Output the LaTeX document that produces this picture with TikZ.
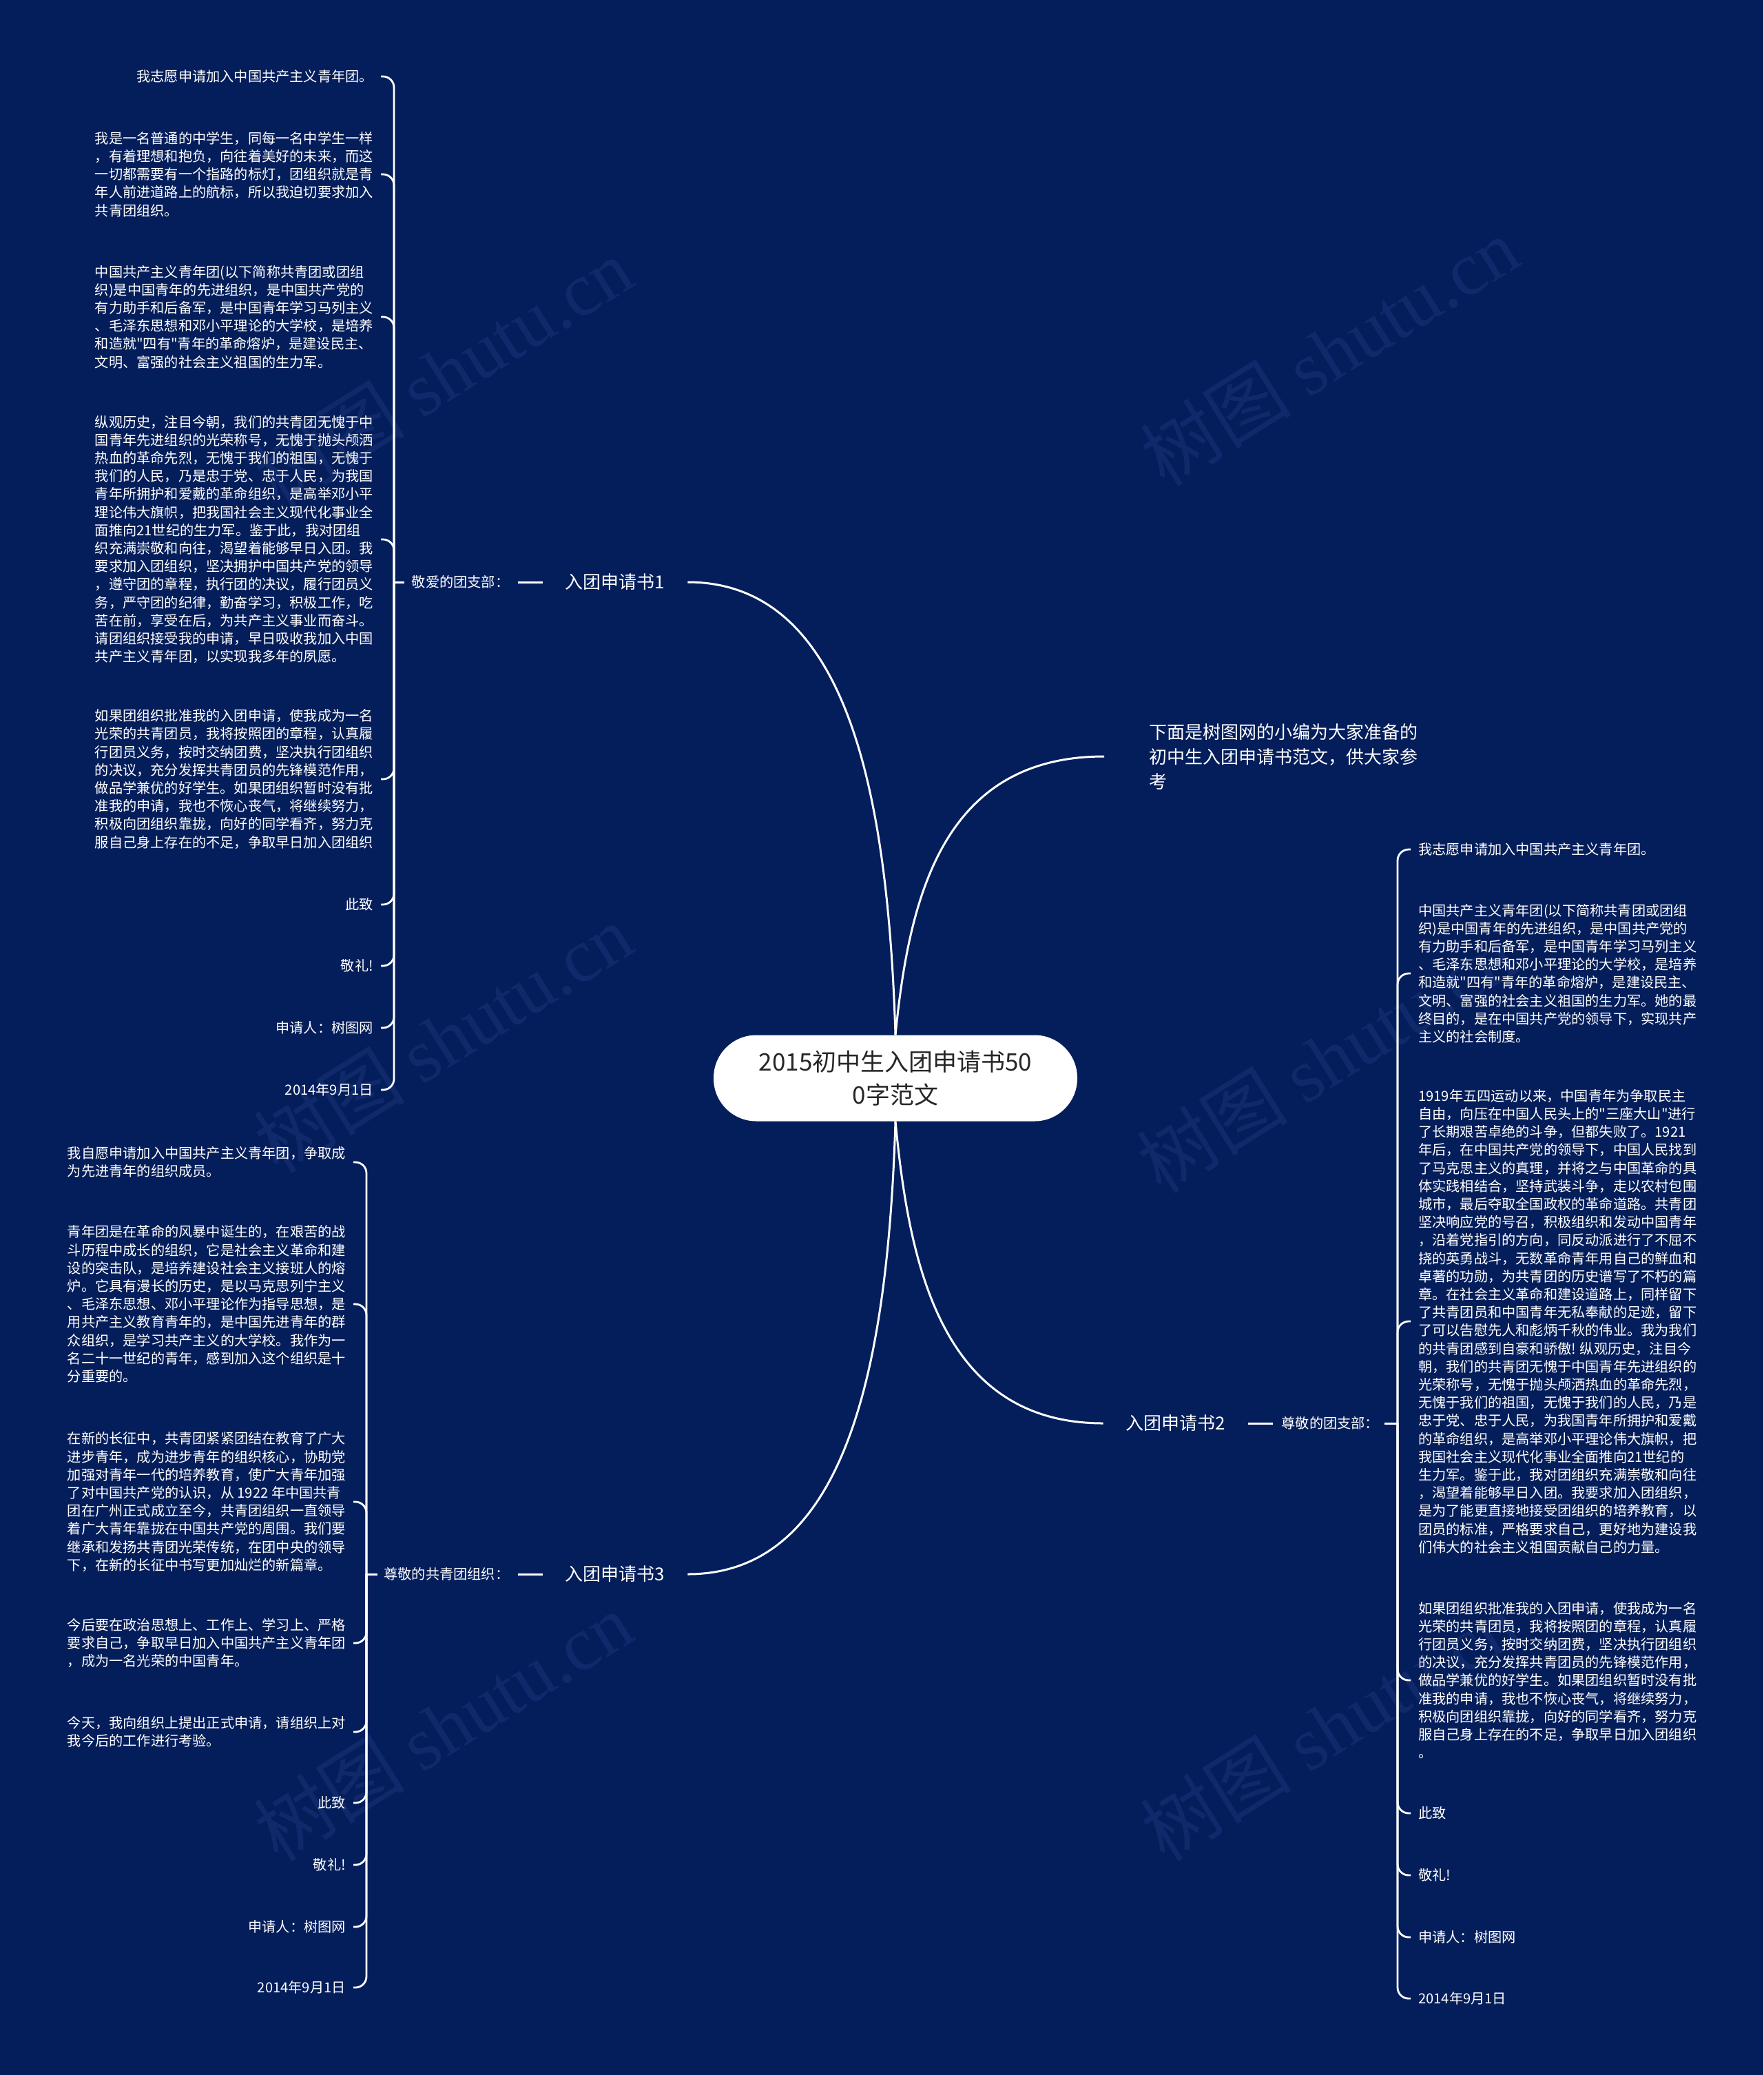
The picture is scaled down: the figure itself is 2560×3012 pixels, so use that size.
\documentclass[tikz,border=0pt]{standalone}
\usepackage{fontspec}
\setmainfont{Noto Sans CJK SC}
\newfontfamily\cjk{Noto Sans CJK SC}
\newfontfamily\wmfont{Liberation Serif}
\usetikzlibrary{positioning, calc}
\definecolor{navybg}{HTML}{041E5B}
\definecolor{wmblue}{HTML}{10296A}
\newcommand{\leaffont}{\cjk\fontsize{20.2}{26.2}\selectfont}
\tikzset{
    rootnode/.style={
        rectangle, rounded corners=62pt, minimum width=528pt, minimum height=125pt,
        fill=white, text=black!85, align=center, inner sep=0pt,
        font=\cjk\fontsize{35}{48}\selectfont
    },
    intronode/.style={
        text=white, align=left, inner sep=0pt, anchor=west,
        font=\cjk\fontsize{26}{36}\selectfont
    },
    branchnode/.style={
        text=white, inner sep=0pt, font=\cjk\fontsize{26}{36}\selectfont
    },
    greet/.style={
        text=white, inner sep=0pt, font=\leaffont
    },
    leafl/.style={
        text=white, align=left, inner sep=0pt, anchor=east, font=\leaffont
    },
    leafr/.style={
        text=white, align=left, inner sep=0pt, anchor=west, font=\leaffont
    },
    link/.style={
        draw=white, line width=3pt
    },
    bracketline/.style={
        draw=white, line width=2.8pt, rounded corners=16pt
    },
    wmark/.style={
        text=wmblue, rotate=32, inner sep=0pt, font=\cjk\fontsize{110}{120}\selectfont
    }
}

\begin{document}
\begin{tikzpicture}[x=1pt, y=-1pt]

    \fill[navybg] (0,0) rectangle (2560,3012);
    \useasboundingbox (0,0) rectangle (2560,3012);

    \node[wmark] (wm1) at (643,540)   {树图 {\wmfont shutu.cn}};
    \node[wmark] (wm2) at (1930,510)  {树图 {\wmfont shutu.cn}};
    \node[wmark] (wm3) at (643,1507)  {树图 {\wmfont shutu.cn}};
    \node[wmark] (wm4) at (1925,1536) {树图 {\wmfont shutu.cn}};
    \node[wmark] (wm5) at (643,2506)  {树图 {\wmfont shutu.cn}};
    \node[wmark] (wm6) at (1930,2506) {树图 {\wmfont shutu.cn}};

    \node[rootnode] (root) at (1300,1565) {2015初中生入团申请书50\\0字范文};

    \node[intronode] (intro) at (1668,1098)
        {下面是树图网的小编为大家准备的\\初中生入团申请书范文，供大家参\\考};

    \node[branchnode] (app1) at (893,845)   {入团申请书1};
    \node[branchnode] (app2) at (1707,2066) {入团申请书2};
    \node[branchnode] (app3) at (893,2285)  {入团申请书3};

    \node[greet, left=81pt of app1]  (greet1) {敬爱的团支部：};
    \node[greet, right=81pt of app2] (greet2) {尊敬的团支部：};
    \node[greet, left=81pt of app3]  (greet3) {尊敬的共青团组织：};

    \coordinate (fork1) at (572,845);
    \coordinate (fork2) at (2029,2066);
    \coordinate (fork3) at (532,2285);

    \draw[link] (root.north) .. controls +(-11,-353) and +(231,0) .. ([xshift=33pt]app1.east);
    \draw[link] (root.north) .. controls +(20,-203) and +(-233,0) .. ([xshift=-65pt]intro.west);
    \draw[link] (root.south) .. controls +(20,212) and +(-233,0) .. ([xshift=-33pt]app2.west);
    \draw[link] (root.south) .. controls +(-11,353) and +(231,0) .. ([xshift=33pt]app3.east);

    \draw[link] ([xshift=12pt]greet1.east) -- ([xshift=-33pt]app1.west);
    \draw[link] (fork1) -- ([xshift=-11pt]greet1.west);
    \draw[link] ([xshift=33pt]app2.east) -- ([xshift=-12pt]greet2.west);
    \draw[link] ([xshift=8pt]greet2.east) -- (fork2);
    \draw[link] ([xshift=12pt]greet3.east) -- ([xshift=-33pt]app3.west);
    \draw[link] (fork3) -- ([xshift=-9pt]greet3.west);

    % application 1
    \node[leafl] (p1a) at (542,111) {我志愿申请加入中国共产主义青年团。};
    \node[leafl] (p1b) at (542,253)
        {我是一名普通的中学生，同每一名中学生一样\\，有着理想和抱负，向往着美好的未来，而这\\一切都需要有一个指路的标灯，团组织就是青\\年人前进道路上的航标，所以我迫切要求加入\\共青团组织。};
    \node[leafl] (p1c) at (542,460)
        {中国共产主义青年团(以下简称共青团或团组\\织)是中国青年的先进组织，是中国共产党的\\有力助手和后备军，是中国青年学习马列主义\\、毛泽东思想和邓小平理论的大学校，是培养\\和造就"四有"青年的革命熔炉，是建设民主、\\文明、富强的社会主义祖国的生力军。};
    \node[leafl] (p1d) at (542,783)
        {纵观历史，注目今朝，我们的共青团无愧于中\\国青年先进组织的光荣称号，无愧于抛头颅洒\\热血的革命先烈，无愧于我们的祖国，无愧于\\我们的人民，乃是忠于党、忠于人民，为我国\\青年所拥护和爱戴的革命组织，是高举邓小平\\理论伟大旗帜，把我国社会主义现代化事业全\\面推向21世纪的生力军。鉴于此，我对团组\\织充满崇敬和向往，渴望着能够早日入团。我\\要求加入团组织，坚决拥护中国共产党的领导\\，遵守团的章程，执行团的决议，履行团员义\\务，严守团的纪律，勤奋学习，积极工作，吃\\苦在前，享受在后，为共产主义事业而奋斗。\\请团组织接受我的申请，早日吸收我加入中国\\共产主义青年团，以实现我多年的夙愿。};
    \node[leafl] (p1e) at (542,1131)
        {如果团组织批准我的入团申请，使我成为一名\\光荣的共青团员，我将按照团的章程，认真履\\行团员义务，按时交纳团费，坚决执行团组织\\的决议，充分发挥共青团员的先锋模范作用，\\做品学兼优的好学生。如果团组织暂时没有批\\准我的申请，我也不恢心丧气，将继续努力，\\积极向团组织靠拢，向好的同学看齐，努力克\\服自己身上存在的不足，争取早日加入团组织};
    \node[leafl] (p1f) at (542,1313) {此致};
    \node[leafl] (p1g) at (542,1402) {敬礼!};
    \node[leafl] (p1h) at (542,1492) {申请人：树图网};
    \node[leafl] (p1i) at (542,1582) {2014年9月1日};

    \draw[bracketline] (fork1) |- ([xshift=11pt]p1a.east);
    \draw[bracketline] (fork1) |- ([xshift=11pt]p1b.east);
    \draw[bracketline] (fork1) |- ([xshift=11pt]p1c.east);
    \draw[bracketline] (fork1) |- ([xshift=11pt]p1d.east);
    \draw[bracketline] (fork1) |- ([xshift=11pt]p1e.east);
    \draw[bracketline] (fork1) |- ([xshift=11pt]p1f.east);
    \draw[bracketline] (fork1) |- ([xshift=11pt]p1g.east);
    \draw[bracketline] (fork1) |- ([xshift=11pt]p1h.east);
    \draw[bracketline] (fork1) |- ([xshift=11pt]p1i.east);

    % application 2
    \node[leafr] (p2a) at (2059,1233) {我志愿申请加入中国共产主义青年团。};
    \node[leafr] (p2b) at (2059,1413)
        {中国共产主义青年团(以下简称共青团或团组\\织)是中国青年的先进组织，是中国共产党的\\有力助手和后备军，是中国青年学习马列主义\\、毛泽东思想和邓小平理论的大学校，是培养\\和造就"四有"青年的革命熔炉，是建设民主、\\文明、富强的社会主义祖国的生力军。她的最\\终目的，是在中国共产党的领导下，实现共产\\主义的社会制度。};
    \node[leafr] (p2c) at (2059,1918)
        {1919年五四运动以来，中国青年为争取民主\\自由，向压在中国人民头上的"三座大山"进行\\了长期艰苦卓绝的斗争，但都失败了。1921\\年后，在中国共产党的领导下，中国人民找到\\了马克思主义的真理，并将之与中国革命的具\\体实践相结合，坚持武装斗争，走以农村包围\\城市，最后夺取全国政权的革命道路。共青团\\坚决响应党的号召，积极组织和发动中国青年\\，沿着党指引的方向，同反动派进行了不屈不\\挠的英勇战斗，无数革命青年用自己的鲜血和\\卓著的功勋，为共青团的历史谱写了不朽的篇\\章。在社会主义革命和建设道路上，同样留下\\了共青团员和中国青年无私奉献的足迹，留下\\了可以告慰先人和彪炳千秋的伟业。我为我们\\的共青团感到自豪和骄傲! 纵观历史，注目今\\朝，我们的共青团无愧于中国青年先进组织的\\光荣称号，无愧于抛头颅洒热血的革命先烈，\\无愧于我们的祖国，无愧于我们的人民，乃是\\忠于党、忠于人民，为我国青年所拥护和爱戴\\的革命组织，是高举邓小平理论伟大旗帜，把\\我国社会主义现代化事业全面推向21世纪的\\生力军。鉴于此，我对团组织充满崇敬和向往\\，渴望着能够早日入团。我要求加入团组织，\\是为了能更直接地接受团组织的培养教育，以\\团员的标准，严格要求自己，更好地为建设我\\们伟大的社会主义祖国贡献自己的力量。};
    \node[leafr] (p2d) at (2059,2439)
        {如果团组织批准我的入团申请，使我成为一名\\光荣的共青团员，我将按照团的章程，认真履\\行团员义务，按时交纳团费，坚决执行团组织\\的决议，充分发挥共青团员的先锋模范作用，\\做品学兼优的好学生。如果团组织暂时没有批\\准我的申请，我也不恢心丧气，将继续努力，\\积极向团组织靠拢，向好的同学看齐，努力克\\服自己身上存在的不足，争取早日加入团组织\\。};
    \node[leafr] (p2e) at (2059,2632) {此致};
    \node[leafr] (p2f) at (2059,2722) {敬礼!};
    \node[leafr] (p2g) at (2059,2812) {申请人：树图网};
    \node[leafr] (p2h) at (2059,2901) {2014年9月1日};

    \draw[bracketline] (fork2) |- ([xshift=-11pt]p2a.west);
    \draw[bracketline] (fork2) |- ([xshift=-11pt]p2b.west);
    \draw[bracketline] (fork2) |- ([xshift=-11pt]p2c.west);
    \draw[bracketline] (fork2) |- ([xshift=-11pt]p2d.west);
    \draw[bracketline] (fork2) |- ([xshift=-11pt]p2e.west);
    \draw[bracketline] (fork2) |- ([xshift=-11pt]p2f.west);
    \draw[bracketline] (fork2) |- ([xshift=-11pt]p2g.west);
    \draw[bracketline] (fork2) |- ([xshift=-11pt]p2h.west);

    % application 3
    \node[leafl] (p3a) at (502,1687)
        {我自愿申请加入中国共产主义青年团，争取成\\为先进青年的组织成员。};
    \node[leafl] (p3b) at (502,1893)
        {青年团是在革命的风暴中诞生的，在艰苦的战\\斗历程中成长的组织，它是社会主义革命和建\\设的突击队，是培养建设社会主义接班人的熔\\炉。它具有漫长的历史，是以马克思列宁主义\\、毛泽东思想、邓小平理论作为指导思想，是\\用共产主义教育青年的，是中国先进青年的群\\众组织，是学习共产主义的大学校。我作为一\\名二十一世纪的青年，感到加入这个组织是十\\分重要的。};
    \node[leafl] (p3c) at (502,2180)
        {在新的长征中，共青团紧紧团结在教育了广大\\进步青年，成为进步青年的组织核心，协助党\\加强对青年一代的培养教育，使广大青年加强\\了对中国共产党的认识，从 1922 年中国共青\\团在广州正式成立至今，共青团组织一直领导\\着广大青年靠拢在中国共产党的周围。我们要\\继承和发扬共青团光荣传统，在团中央的领导\\下，在新的长征中书写更加灿烂的新篇章。};
    \node[leafl] (p3d) at (502,2385)
        {今后要在政治思想上、工作上、学习上、严格\\要求自己，争取早日加入中国共产主义青年团\\，成为一名光荣的中国青年。};
    \node[leafl] (p3e) at (502,2514)
        {今天，我向组织上提出正式申请，请组织上对\\我今后的工作进行考验。};
    \node[leafl] (p3f) at (502,2617) {此致};
    \node[leafl] (p3g) at (502,2707) {敬礼!};
    \node[leafl] (p3h) at (502,2797) {申请人：树图网};
    \node[leafl] (p3i) at (502,2885) {2014年9月1日};

    \draw[bracketline] (fork3) |- ([xshift=11pt]p3a.east);
    \draw[bracketline] (fork3) |- ([xshift=11pt]p3b.east);
    \draw[bracketline] (fork3) |- ([xshift=11pt]p3c.east);
    \draw[bracketline] (fork3) |- ([xshift=11pt]p3d.east);
    \draw[bracketline] (fork3) |- ([xshift=11pt]p3e.east);
    \draw[bracketline] (fork3) |- ([xshift=11pt]p3f.east);
    \draw[bracketline] (fork3) |- ([xshift=11pt]p3g.east);
    \draw[bracketline] (fork3) |- ([xshift=11pt]p3h.east);
    \draw[bracketline] (fork3) |- ([xshift=11pt]p3i.east);

\end{tikzpicture}
\end{document}
